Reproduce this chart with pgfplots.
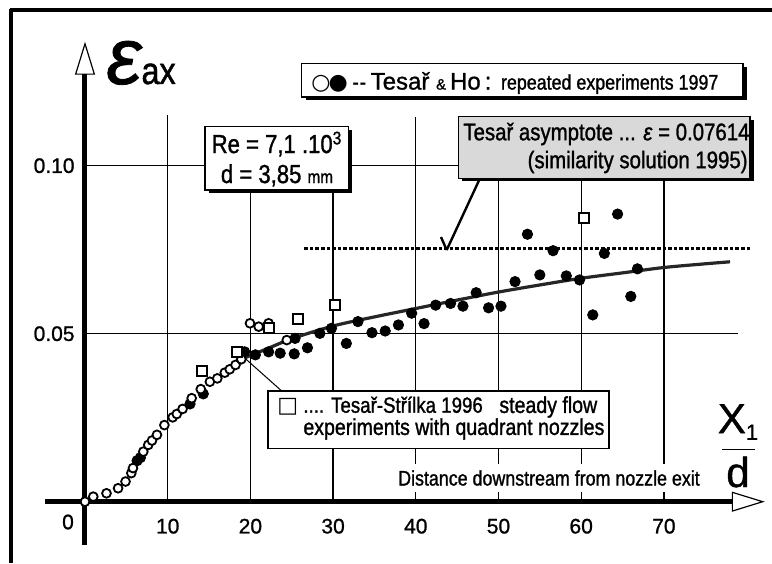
\documentclass[border=0pt]{standalone}
\usepackage{pgfplots}
\pgfplotsset{compat=1.18}
\usetikzlibrary{arrows.meta}
\usepackage{fontspec}
\setmainfont{Liberation Sans}[FakeStretch=0.85, FakeBold=1.2]
\newfontfamily\plainsans{Liberation Sans}[FakeBold=1.0]
\newfontfamily\dejavu{DejaVu Sans}
\newcommand\fs[1]{\fontsize{#1}{#1}\selectfont}
\begin{document}
\begin{tikzpicture}
\begin{axis}[
  x=4.135pt, y=1680pt,
  xmin=-4.8, xmax=82.2, ymin=-0.013, ymax=0.1369,
  axis lines*=middle,
  axis line style={line width=2.5pt, -{Triangle[open, length=16.5pt, width=10pt, line width=0.6pt]}},
  xtick={10,20,30,40,50,60,70},
  ytick={0.05,0.1},
  yticklabels={0.05,0.10},
  major tick length=0pt,
  /pgf/number format/assume math mode=true,
  tick label style={font=\plainsans\fs{10.5}},
  xticklabel style={yshift=-5pt},
  yticklabel style={xshift=-1.7pt},
  clip=false,
]
\coordinate (P0) at (axis cs:-10.278,0.149315);
% grid
\draw[line width=0.7pt] (axis cs:10,0) -- (axis cs:10,0.115);
\draw[line width=0.7pt] (axis cs:20,0) -- (axis cs:20,0.10);
\draw[line width=0.7pt] (axis cs:30,0) -- (axis cs:30,0.10);
\draw[line width=0.7pt] (axis cs:40,0) -- (axis cs:40,0.1145);
\draw[line width=0.7pt] (axis cs:50,0) -- (axis cs:50,0.10);
\draw[line width=0.7pt] (axis cs:60,0) -- (axis cs:60,0.10);
\draw[line width=0.7pt] (axis cs:70,0) -- (axis cs:70,0.10);
\draw[line width=0.7pt] (axis cs:0,0.05) -- (axis cs:79,0.05);
\draw[line width=0.7pt] (axis cs:0,0.10) -- (axis cs:79,0.10);
% asymptote
\addplot[line width=1.5pt, dash pattern=on 1.8pt off 1.0pt] coordinates {(26.5,0.0755) (80.5,0.0755)};
% fitted curve
\addplot[smooth, line width=1.6pt, black!85] coordinates {
(19,0.0425) (22,0.0455) (25,0.0485) (30,0.0523) (35,0.0550) (40,0.0575)
(45,0.0600) (50,0.0624) (55,0.0645) (60,0.0665) (65,0.0681) (70,0.0697)
(75,0.0708) (78,0.0714)};
% filled circles
\addplot[only marks, mark=*, mark size=2.6pt, black] coordinates {
(6.3,0.0122) (6.7,0.0131) (12.7,0.0291) (14.3,0.0321) (19.3,0.0446) (20.6,0.0437)
(22.2,0.0446) (23.6,0.0442) (25.3,0.0440) (25.4,0.0486) (26.9,0.0458)
(28.4,0.0501) (29.8,0.0516) (31.6,0.0471) (33.0,0.0536) (34.7,0.0503)
(36.3,0.0508) (37.9,0.0526) (39.5,0.0561) (41.0,0.0530) (42.4,0.0585)
(44.2,0.0590) (45.7,0.0582) (47.3,0.0622) (48.8,0.0577) (50.3,0.0582)
(52.0,0.0655) (53.5,0.0796) (55.0,0.0675) (56.6,0.0747) (58.2,0.0672)
(59.8,0.0660) (61.4,0.0556) (62.8,0.0739) (64.4,0.0856) (66.0,0.0611)
(66.8,0.0693)};
% open circles
\addplot[only marks, mark=*, mark size=2.2pt, mark options={fill=white, draw=black, line width=0.9pt}] coordinates {
(0.0,0.0) (1.0,0.0015) (2.6,0.0025) (4.0,0.0040) (4.9,0.0060) (5.6,0.0085)
(5.8,0.0100) (7.05,0.0149) (7.65,0.0169) (8.1,0.0182) (8.7,0.0199)
(9.6,0.0228) (10.6,0.0251) (11.1,0.0261) (11.8,0.0276) (12.9,0.0308)
(14.0,0.0335) (15.1,0.0357) (16.0,0.0367) (16.9,0.0384) (17.5,0.0394)
(18.2,0.0407) (18.9,0.0424) (19.95,0.0531) (21.0,0.0521) (22.2,0.0531)
(24.4,0.0481)};
% squares
\addplot[only marks, mark=square*, mark size=2.5pt, mark options={fill=white, draw=black, line width=1pt}] coordinates {
(14.1,0.0390) (18.4,0.0445) (22.2,0.0516) (25.8,0.0543) (30.2,0.0585) (60.3,0.0843)};
\end{axis}
\begin{scope}[shift={(P0)}, x=0.5pt, y=-0.5pt]
% frame
\draw[line width=1.6pt] (10,10) -- (772,10);
\draw[line width=1.8pt] (11,9.2) -- (11,563);
% zero label
\node[font=\plainsans\fs{10.5}] at (68,522) {0};
% y label
\node[anchor=base west, inner sep=0pt] at (106,84) {{\plainsans\fs{40}\itshape ε}{\fs{19}ax}};
% x label
\node[font=\plainsans\fs{21}, inner sep=0pt] at (738,422) {X\raisebox{-0.3ex}{\fs{11}1}};
\draw[line width=0.7pt] (722,449.3) -- (755,449.3);
\node[font=\plainsans\fs{21}, inner sep=0pt] at (738,472) {d};
% distance text
\node[fill=white, inner xsep=1pt, inner ysep=3pt, font=\fs{10.5}] at (549,478) {Distance downstream from nozzle exit};
% legend top
\fill[black] (305.5,67.5) rectangle (746.5,100.5);
\draw[line width=0.6pt, fill=white] (301.7,63.3) rectangle (743,97);
\node[anchor=west, inner sep=0pt] at (311,83) {{\dejavu\fs{11}○\kern-1pt●} {\fs{11}{-}\kern0.5pt{-}} {\plainsans\fs{12}Tesař {\fs{7.5}\&}\,Ho\,:}\, {\fs{10.5}repeated experiments 1997}};
% Re box
\fill[black] (208.5,130.5) rectangle (351.5,193.5);
\draw[line width=0.6pt, fill=white] (205,126.7) rectangle (348.3,190);
\node[align=center, font=\fs{13}, inner sep=0pt] at (277,159) {Re = 7,1 .10\textsuperscript{3}\\[2pt] d = 3,85 {\fs{9}mm}};
% asymptote box
\draw[line width=1.2pt] (480,178.3) -- (446.7,250);
\draw[line width=1.2pt] (441,237) -- (446.7,250);
\fill[black] (462,120.5) rectangle (753.5,181.5);
\draw[line width=0.6pt, fill=black!15] (458.3,116.7) rectangle (750,178.3);
\node[anchor=west, inner sep=0pt, font=\fs{12}] at (463,134) {Tesař asymptote ... \textit{ε} = 0.07614};
\node[anchor=east, inner sep=0pt, font=\fs{12}] at (748,162) {(similarity solution 1995)};
% Tesar-Strilka box
\draw[line width=0.5pt] (245,358.3) -- (281.7,391);
\draw[line width=0.6pt, fill=white] (268,391) rectangle (609,448.3);
\node[anchor=west, inner sep=0pt, font=\fs{11}] at (277,406) {{\dejavu\fs{11}□} .... Tesař-Střílka 1996};
\node[anchor=west, inner sep=0pt, font=\fs{11.5}] at (499,407) {steady flow};
\node[anchor=west, inner sep=0pt, font=\fs{11.5}] at (303,429) {experiments with quadrant nozzles};
\pgfresetboundingbox
\path[use as bounding box] (0,0) rectangle (772,563);
\end{scope}
\end{tikzpicture}
\end{document}
